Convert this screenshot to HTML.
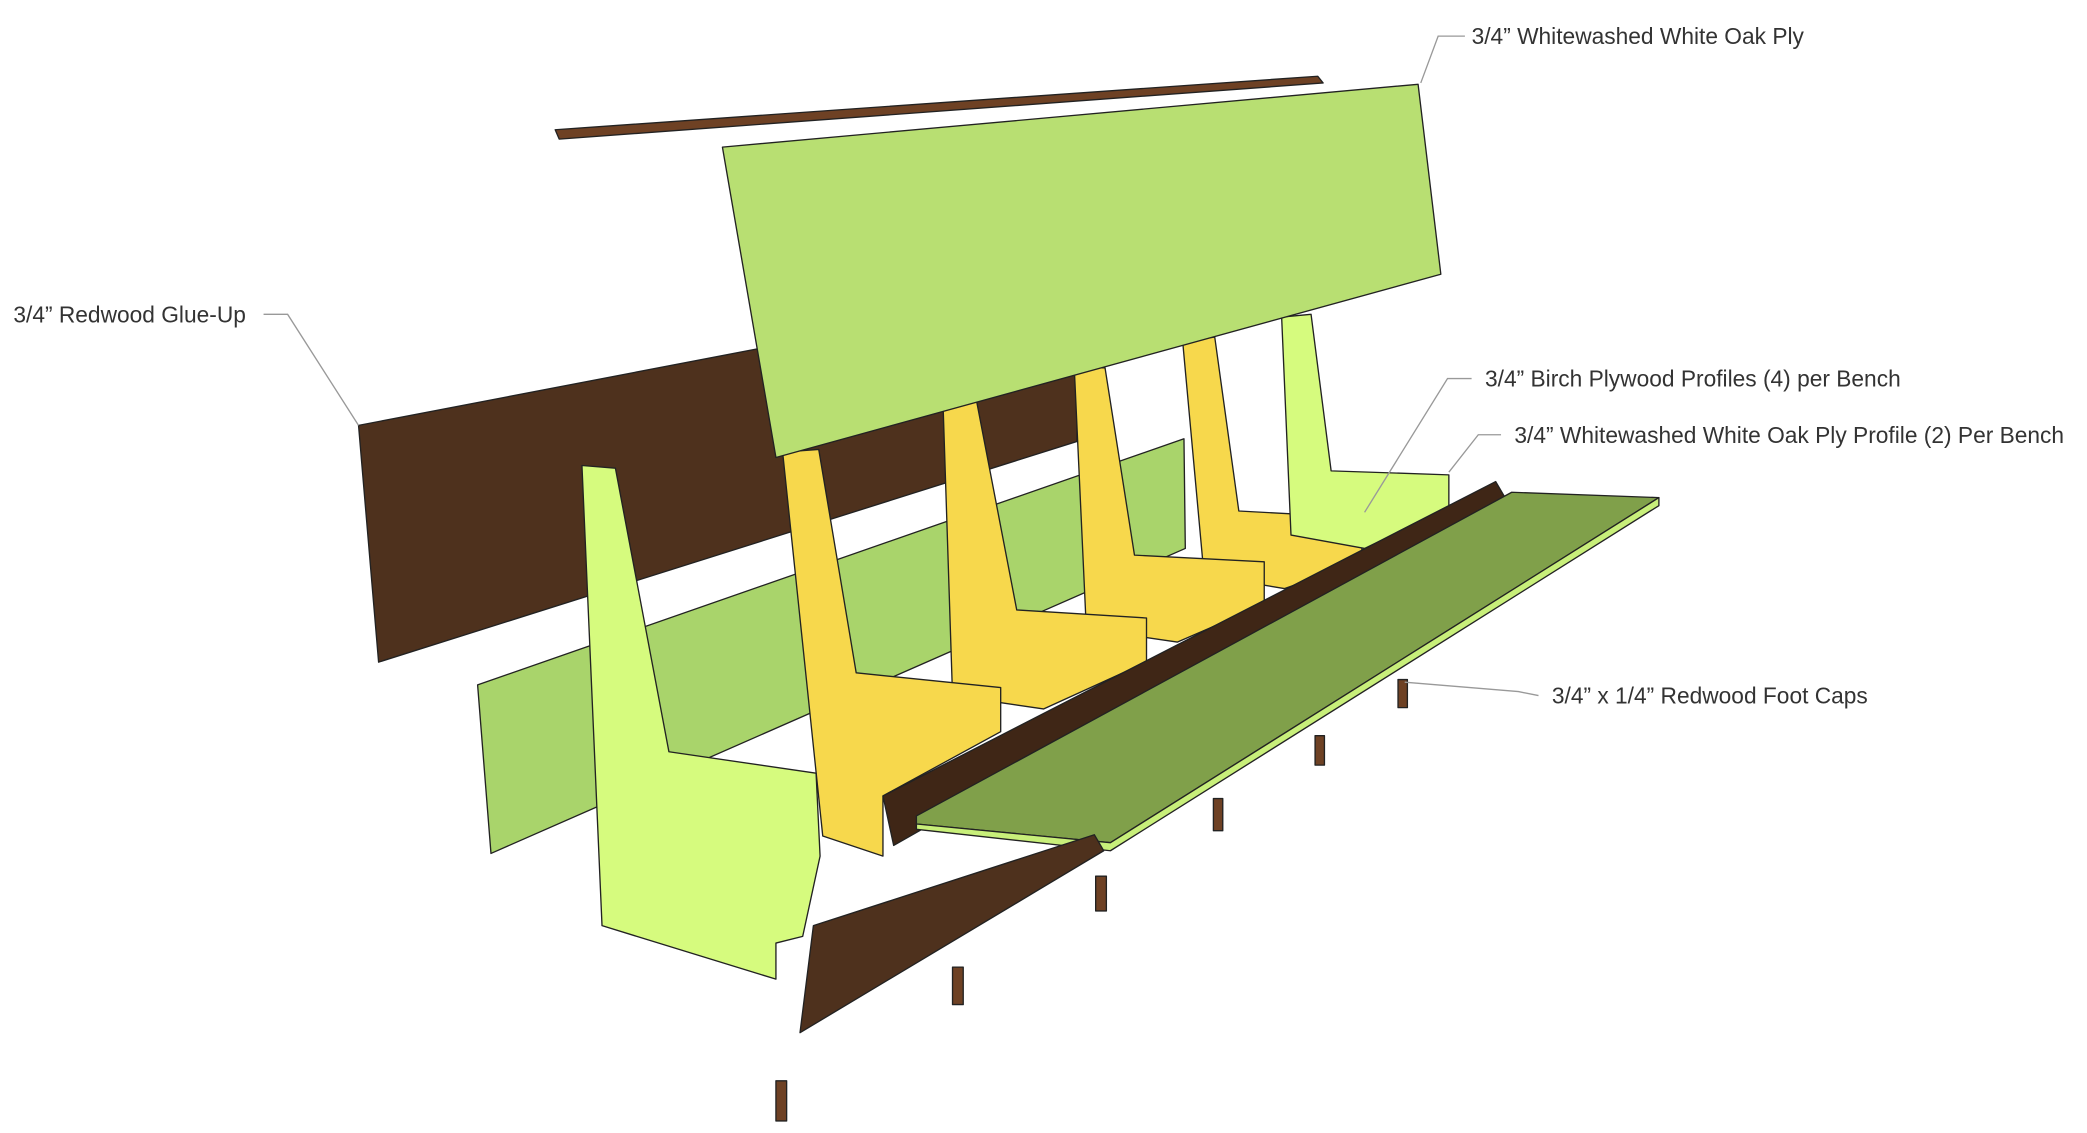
<!DOCTYPE html>
<html><head><meta charset="utf-8"><style>
html,body{margin:0;padding:0;background:#fff;}
svg{display:block;}
text{font-family:"Liberation Sans",sans-serif;font-size:17px;fill:#333;}
</style></head><body>
<svg width="2087" height="1133" viewBox="0 0 1560 847" preserveAspectRatio="none" xmlns="http://www.w3.org/2000/svg">
<rect width="1560" height="847" fill="#fff"/>
<g stroke="#222" stroke-width="1" stroke-linejoin="round">
<polygon points="415,97 985,57 989,62 418,104" fill="#6e4124"/>
<polygon points="268,318 805,215 805,330 283,495" fill="#4e311d"/>
<polygon points="357,512 885,328 886,410 367,638" fill="#a9d46b"/>
<polygon points="884,255 908,252 926,382 1018,387 1018,420 960,440 900,430" fill="#f7d84c"/>
<polygon points="958,237 980,235 995,352 1083,355 1083,380 1020,410 965,400" fill="#d6fb7e"/>
<polygon points="803,275 826,275 848,415 945,420 945,452 880,480 812,470" fill="#f7d84c"/>
<polygon points="705,305 730,300 760,456 857,462 857,495 780,530 712,520" fill="#f7d84c"/>
<polygon points="585,338 612,336 640,503 748,514 748,547 660,595 660,640 615,625" fill="#f7d84c"/>
<polygon points="540,110 1060,63 1077,205 580,342" fill="#b8df72"/>
<polygon points="435,348 460,350 500,562 610,578 613,640 600,700 580,705 580,732 450,692" fill="#d6fb7e"/>
<polygon points="660,595 1118,360 1125,372 668,632" fill="#3f2616"/>
<polygon points="685,610 1130,368 1240,372 830,630 685,616" fill="#80a04a"/>
<polygon points="685,616 830,630 1240,372 1240,378 830,636 685,620" fill="#c8ef7a"/>
<polygon points="598,772 608,692 818,624 825,636" fill="#4e311d"/>
<g fill="#6e4124">
<rect x="580" y="808" width="8" height="30"/>
<rect x="712" y="723" width="8" height="28"/>
<rect x="819" y="655" width="8" height="26"/>
<rect x="907" y="597" width="7" height="24"/>
<rect x="983" y="550" width="7" height="22"/>
<rect x="1045" y="508" width="7" height="21"/>
</g>
</g>
<g stroke="#999" stroke-width="1" fill="none">
<polyline points="1095,27 1075,27 1062,62"/>
<polyline points="197,235 215,235 268,318"/>
<polyline points="1100,283 1082,283 1020,383"/>
<polyline points="1122,325 1105,325 1083,353"/>
<polyline points="1150,520 1135,517 1050,510"/>
</g>
<text x="1100" y="33">3/4”  Whitewashed White Oak Ply</text>
<text x="10" y="241">3/4” Redwood Glue-Up</text>
<text x="1110" y="289">3/4” Birch Plywood Profiles (4) per Bench</text>
<text x="1132" y="331">3/4” Whitewashed White Oak Ply Profile (2) Per Bench</text>
<text x="1160" y="526">3/4” x 1/4” Redwood Foot Caps</text>
</svg>
</body></html>
